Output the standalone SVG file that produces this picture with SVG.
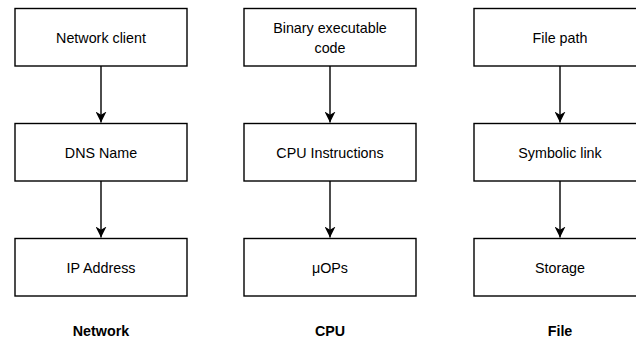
<svg xmlns="http://www.w3.org/2000/svg" width="636" height="342" viewBox="0 0 636 342">
<defs>
<style>
.box{fill:#fff;stroke:#000;stroke-width:1.4}
.t{font-family:"Liberation Sans",Arial,sans-serif;font-size:14.3px;fill:#000;text-anchor:middle;dominant-baseline:central}
.b{font-weight:bold}
.e{stroke:#000;stroke-width:1.4;fill:none}
</style>
<marker id="arr" viewBox="0 0 10 10" refX="10" refY="5" markerWidth="11" markerHeight="11" markerUnits="userSpaceOnUse" orient="auto">
<path d="M0,0 L10,5 L0,10 L3,5 Z" fill="#000"/>
</marker>
</defs>
<rect width="636" height="342" fill="#fff"/>
<g id="connectors">
<path class="e" d="M101,66 V122.5" marker-end="url(#arr)"/>
<path class="e" d="M101,181 V237.5" marker-end="url(#arr)"/>
<path class="e" d="M330,66 V122.5" marker-end="url(#arr)"/>
<path class="e" d="M330,181 V237.5" marker-end="url(#arr)"/>
<path class="e" d="M560,66 V122.5" marker-end="url(#arr)"/>
<path class="e" d="M560,181 V237.5" marker-end="url(#arr)"/>
</g>
<g id="network-client"><rect class="box" x="15" y="8.5" width="172" height="57.5"/><text class="t" x="101" y="38">Network client</text></g>
<g id="dns-name"><rect class="box" x="15" y="123.5" width="172" height="57.5"/><text class="t" x="101" y="153">DNS Name</text></g>
<g id="ip-address"><rect class="box" x="15" y="238.5" width="172" height="57.5"/><text class="t" x="101" y="268">IP Address</text></g>
<g id="binary-code"><rect class="box" x="244" y="8.5" width="172" height="57.5"/><text class="t" x="330" y="28">Binary executable</text><text class="t" x="330" y="48">code</text></g>
<g id="cpu-instructions"><rect class="box" x="244" y="123.5" width="172" height="57.5"/><text class="t" x="330" y="153">CPU Instructions</text></g>
<g id="uops"><rect class="box" x="244" y="238.5" width="172" height="57.5"/><text class="t" x="330" y="268">μOPs</text></g>
<g id="file-path"><rect class="box" x="474" y="8.5" width="172" height="57.5"/><text class="t" x="560" y="38">File path</text></g>
<g id="symbolic-link"><rect class="box" x="474" y="123.5" width="172" height="57.5"/><text class="t" x="560" y="153">Symbolic link</text></g>
<g id="storage"><rect class="box" x="474" y="238.5" width="172" height="57.5"/><text class="t" x="560" y="268">Storage</text></g>
<g id="label-network"><text class="t b" x="101" y="331">Network</text></g>
<g id="label-cpu"><text class="t b" x="330" y="331">CPU</text></g>
<g id="label-file"><text class="t b" x="560" y="331">File</text></g>
</svg>
